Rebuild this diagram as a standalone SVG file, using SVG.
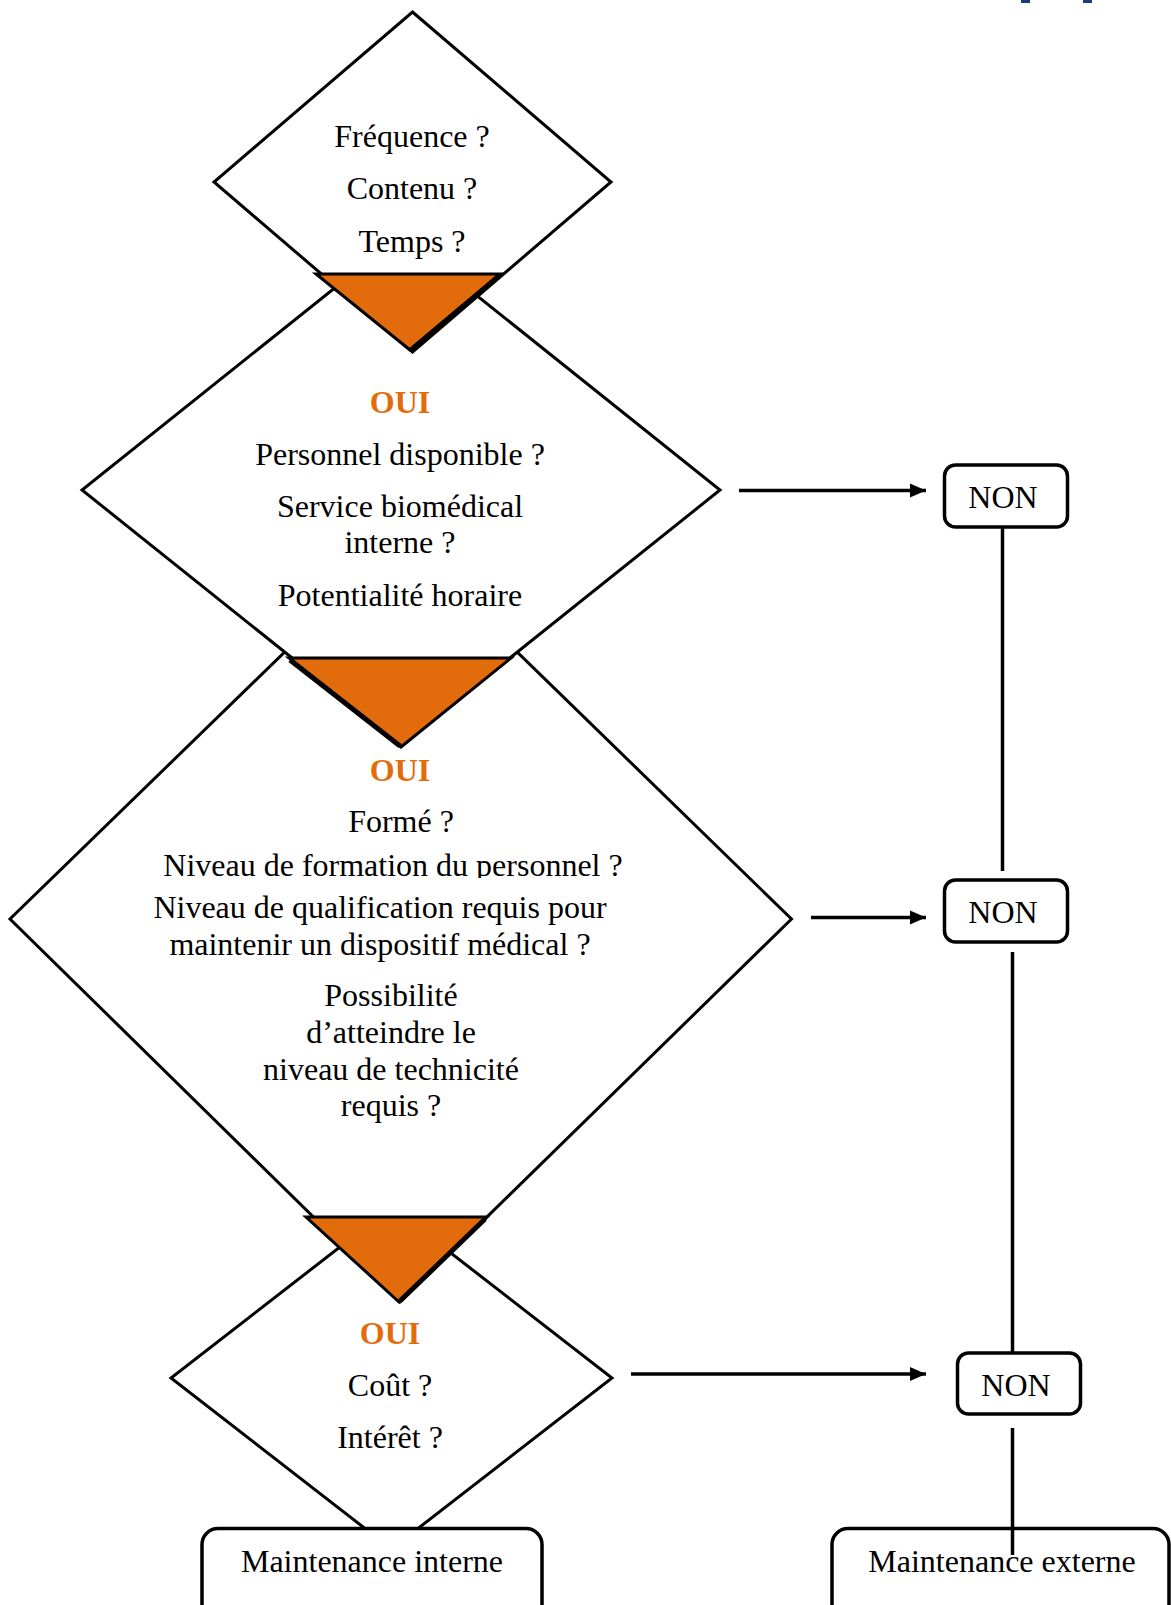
<svg xmlns="http://www.w3.org/2000/svg" width="1171" height="1605" viewBox="0 0 1171 1605">
  <defs>
    <style>
      .dia { fill: #ffffff; stroke: #000; stroke-width: 3; stroke-linejoin: miter; }
      .tri { fill: #E26B0B; stroke: #000; stroke-width: 3; stroke-linejoin: miter; }
      .triedge { fill: none; stroke: #000; stroke-width: 5; stroke-linecap: butt; }
      .box { fill: #ffffff; stroke: #000; stroke-width: 3.5; }
      .t { font-family: "Liberation Serif", "Times New Roman", serif; font-size: 32px; fill: #000; text-anchor: middle; }
      .oui { font-family: "Liberation Serif", "Times New Roman", serif; font-size: 32px; font-weight: bold; fill: #E36C0A; text-anchor: middle; }
      .conn { fill: none; stroke: #000; stroke-width: 3.5; }
    </style>
    <marker id="arrow" markerUnits="userSpaceOnUse" markerWidth="16" markerHeight="16" viewBox="0 0 16 14" refX="16" refY="7" orient="auto">
      <path d="M0,0 L16,7 L0,14 z" fill="#000"/>
    </marker>
    <clipPath id="clipFormation">
      <rect x="0" y="840" width="800" height="38"/>
    </clipPath>
  </defs>

  <!-- fragments at top right -->
  <g id="top-fragments" fill="#1F3A7A">
    <rect x="1021" y="0" width="9" height="3"/>
    <rect x="1083" y="0" width="9" height="3"/>
  </g>

  <!-- Diamond 4 (lowest layer, top hidden under diamond 3) -->
  <g id="diamond4">
    <polygon class="dia" points="391.5,1207 612,1378 391.5,1549 171,1378"/>
    <text class="oui" x="390" y="1344">OUI</text>
    <text class="t" x="390" y="1396">Coût ?</text>
    <text class="t" x="390" y="1448">Intérêt ?</text>
  </g>

  <!-- Diamond 3 -->
  <g id="diamond3">
    <polygon class="dia" points="401,539 791.5,919 400,1302 10,919"/>
    <text class="oui" x="400" y="781">OUI</text>
    <text class="t" x="401" y="832">Formé ?</text>
    <text class="t" x="393" y="876" clip-path="url(#clipFormation)">Niveau de formation du personnel ?</text>
    <text class="t" x="380" y="918">Niveau de qualification requis pour</text>
    <text class="t" x="380" y="955">maintenir un dispositif médical ?</text>
    <text class="t" x="391" y="1006">Possibilité</text>
    <text class="t" x="391" y="1043">d’atteindre le</text>
    <text class="t" x="391" y="1080">niveau de technicité</text>
    <text class="t" x="391" y="1116">requis ?</text>
  </g>

  <!-- Diamond 2 -->
  <g id="diamond2">
    <polygon class="dia" points="401,235 720,490 401,745 82,490"/>
    <text class="oui" x="400" y="413">OUI</text>
    <text class="t" x="400" y="465">Personnel disponible ?</text>
    <text class="t" x="400" y="517">Service biomédical</text>
    <text class="t" x="400" y="553">interne ?</text>
    <text class="t" x="400" y="606">Potentialité horaire</text>
  </g>

  <!-- Diamond 1 -->
  <g id="diamond1">
    <polygon class="dia" points="412.5,12 611,182 412.5,352 214,182"/>
    <text class="t" x="412" y="147">Fréquence ?</text>
    <text class="t" x="412" y="199">Contenu ?</text>
    <text class="t" x="412" y="252">Temps ?</text>
  </g>

  <!-- Orange triangles -->
  <g id="triangle1">
    <polygon class="tri" points="316,274 501,274 410,350"/>
    <line class="triedge" x1="499" y1="276" x2="411" y2="350"/>
  </g>
  <g id="triangle2">
    <polygon class="tri" points="289,658 511,658 401,747"/>
    <line class="triedge" x1="290" y1="660" x2="400" y2="746"/>
  </g>
  <g id="triangle3">
    <polygon class="tri" points="306,1217 487,1217 399,1302"/>
    <line class="triedge" x1="485" y1="1219" x2="400" y2="1301"/>
  </g>

  <!-- NON boxes -->
  <g id="non1">
    <rect class="box" x="944.5" y="465" width="123" height="62" rx="11"/>
    <text class="t" x="1003" y="508">NON</text>
  </g>
  <g id="non2">
    <rect class="box" x="944.5" y="880" width="123" height="62" rx="11"/>
    <text class="t" x="1003" y="923">NON</text>
  </g>
  <g id="non3">
    <rect class="box" x="957.5" y="1353" width="123" height="61" rx="11"/>
    <text class="t" x="1016" y="1396">NON</text>
  </g>

  <!-- Terminal boxes -->
  <g id="maintenance-interne">
    <rect class="box" x="202" y="1528.5" width="340" height="100" rx="16"/>
    <text class="t" x="372" y="1572">Maintenance interne</text>
  </g>
  <g id="maintenance-externe">
    <rect class="box" x="832" y="1528.5" width="337" height="100" rx="16"/>
    <text class="t" x="1002" y="1572">Maintenance externe</text>
  </g>

  <!-- Connectors -->
  <g id="connectors">
    <line class="conn" x1="739" y1="490.5" x2="926" y2="490.5" marker-end="url(#arrow)"/>
    <line class="conn" x1="811" y1="917.5" x2="926" y2="917.5" marker-end="url(#arrow)"/>
    <line class="conn" x1="631" y1="1374" x2="926" y2="1374" marker-end="url(#arrow)"/>
    <line class="conn" x1="1002.5" y1="527" x2="1002.5" y2="871"/>
    <line class="conn" x1="1012.5" y1="952" x2="1012.5" y2="1353"/>
    <line class="conn" x1="1012.5" y1="1428" x2="1012.5" y2="1555"/>
  </g>
</svg>
